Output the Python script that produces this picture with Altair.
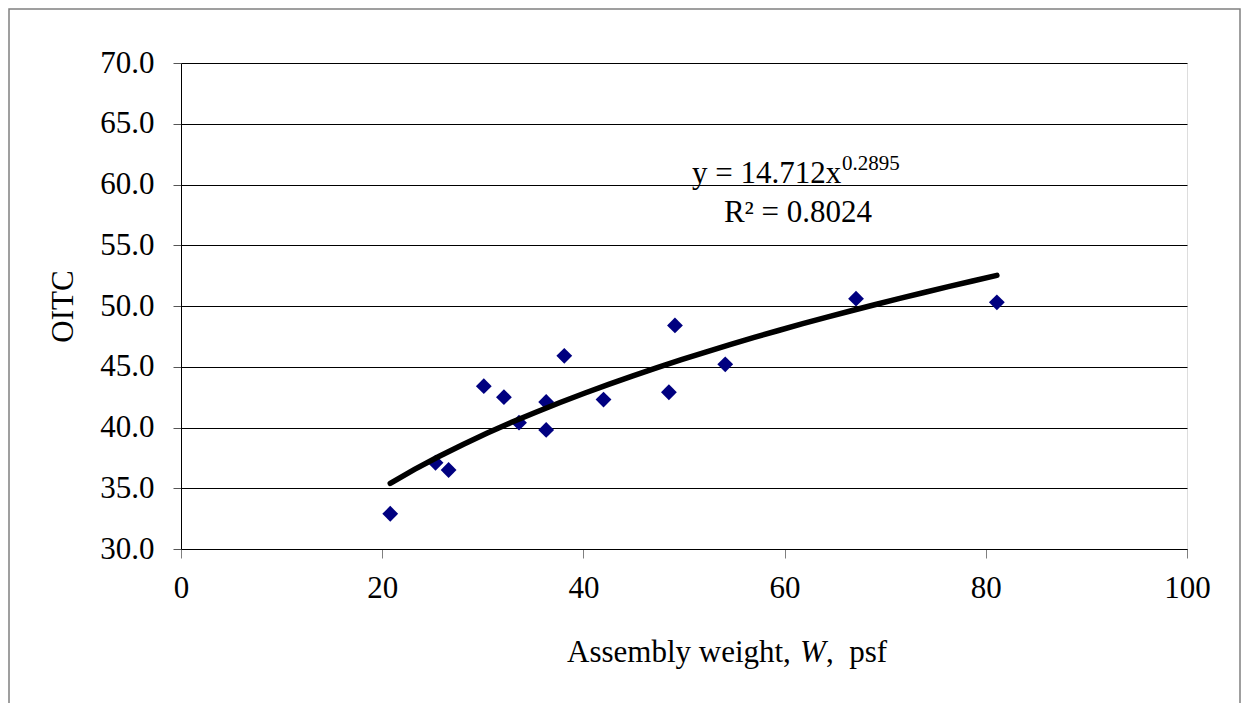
import altair as alt
import pandas as pd

# Data
weight = [20.8, 25.3, 26.6, 30.1, 32.1, 33.6, 36.3, 36.3, 38.1, 42.0, 48.5, 49.1, 54.1, 67.1, 81.1]
oitc = [32.9, 37.1, 36.5, 43.4, 42.5, 40.4, 42.1, 39.8, 45.9, 42.3, 42.9, 48.4, 45.2, 50.6, 50.3]

x_ticks = [0, 20, 40, 60, 80, 100]
y_ticks = [30, 35, 40, 45, 50, 55, 60, 65, 70]

eq_main = ["y = 14.712x"]
eq_sup = ["0.2895"]
eq_r2 = ["R² = 0.8024"]
xt_parts = ["Assembly weight, ", "W", ",\u00a0\u00a0psf"]
y_title = "OITC"

FONT = "Liberation Serif"
W, H = 1006, 486

df = pd.DataFrame({"w": weight, "oitc": oitc})

xscale = alt.Scale(domain=[0, 100], nice=False, zero=False)
yscale = alt.Scale(domain=[30, 70], nice=False, zero=False)

xaxis = alt.Axis(
    values=x_ticks, format="d", title=None, grid=False,
    tickSize=9, tickColor="#808080", domainColor="#000000",
    labelFont=FONT, labelFontSize=31, labelColor="#000000", labelPadding=15,
    labelFlush=False,
)
yaxis = alt.Axis(
    values=y_ticks, format=".1f", title=y_title, grid=True,
    gridColor="#000000", gridWidth=1,
    tickSize=8, tickColor="#555555", domainColor="#000000",
    labelFont=FONT, labelFontSize=31, labelColor="#000000", labelPadding=19,
    titleFont=FONT, titleFontSize=31, titleFontWeight="normal", titleColor="#000000",
    titleAngle=270, titleX=-118, titleY=243, titleAlign="center", titleBaseline="middle",
)

base = alt.Chart(df)

points = base.mark_point(
    shape="diamond", filled=True, size=250, color="#000080", opacity=1
).encode(
    x=alt.X("w:Q", scale=xscale, axis=xaxis),
    y=alt.Y("oitc:Q", scale=yscale, axis=yaxis),
)

trend = base.transform_regression(
    "w", "oitc", method="pow", extent=[min(weight), max(weight)]
).mark_line(color="#000000", strokeWidth=5.5, strokeCap="round").encode(
    x=alt.X("w:Q", scale=xscale),
    y=alt.Y("oitc:Q", scale=yscale),
)

one = alt.Data(values=[{"a": 1}])

eq1 = alt.Chart(pd.DataFrame({"t": eq_main})).mark_text(
    font=FONT, fontSize=31, align="left", baseline="alphabetic", color="#000000"
).encode(x=alt.value(511), y=alt.value(120), text="t:N")
eq2 = alt.Chart(pd.DataFrame({"t": eq_sup})).mark_text(
    font=FONT, fontSize=21, align="left", baseline="alphabetic", color="#000000"
).encode(x=alt.value(661), y=alt.value(107), text="t:N")
eq3 = alt.Chart(pd.DataFrame({"t": eq_r2})).mark_text(
    font=FONT, fontSize=31, align="center", baseline="alphabetic", color="#000000"
).encode(x=alt.value(617), y=alt.value(159), text="t:N")

xt1 = alt.Chart(pd.DataFrame({"t": [xt_parts[0]]})).mark_text(
    font=FONT, fontSize=31, align="left", baseline="alphabetic", color="#000000"
).encode(x=alt.value(386), y=alt.value(599), text="t:N")
xt2 = alt.Chart(pd.DataFrame({"t": [xt_parts[1]]})).mark_text(
    font=FONT, fontSize=31, fontStyle="italic", align="left", baseline="alphabetic", color="#000000"
).encode(x=alt.value(619), y=alt.value(599), text="t:N")
xt3 = alt.Chart(pd.DataFrame({"t": [xt_parts[2]]})).mark_text(
    font=FONT, fontSize=31, align="left", baseline="alphabetic", color="#000000"
).encode(x=alt.value(645), y=alt.value(599), text="t:N")

frame = alt.Chart(one).mark_rect(
    fillOpacity=0, stroke="#808080", strokeWidth=1.5
).encode(
    x=alt.value(-172), x2=alt.value(1059),
    y=alt.value(-54), y2=alt.value(700),
)

chart = alt.layer(frame, points, trend, eq1, eq2, eq3, xt1, xt2, xt3).properties(
    width=W, height=H,
    autosize=alt.AutoSizeParams(type="none"),
    padding={"left": 173, "top": 55, "right": 54, "bottom": 154},
).configure_view(
    stroke="#808080", strokeWidth=1
).configure(background="white")

chart.save("out.html", embed_options={"renderer": "svg", "actions": False})
